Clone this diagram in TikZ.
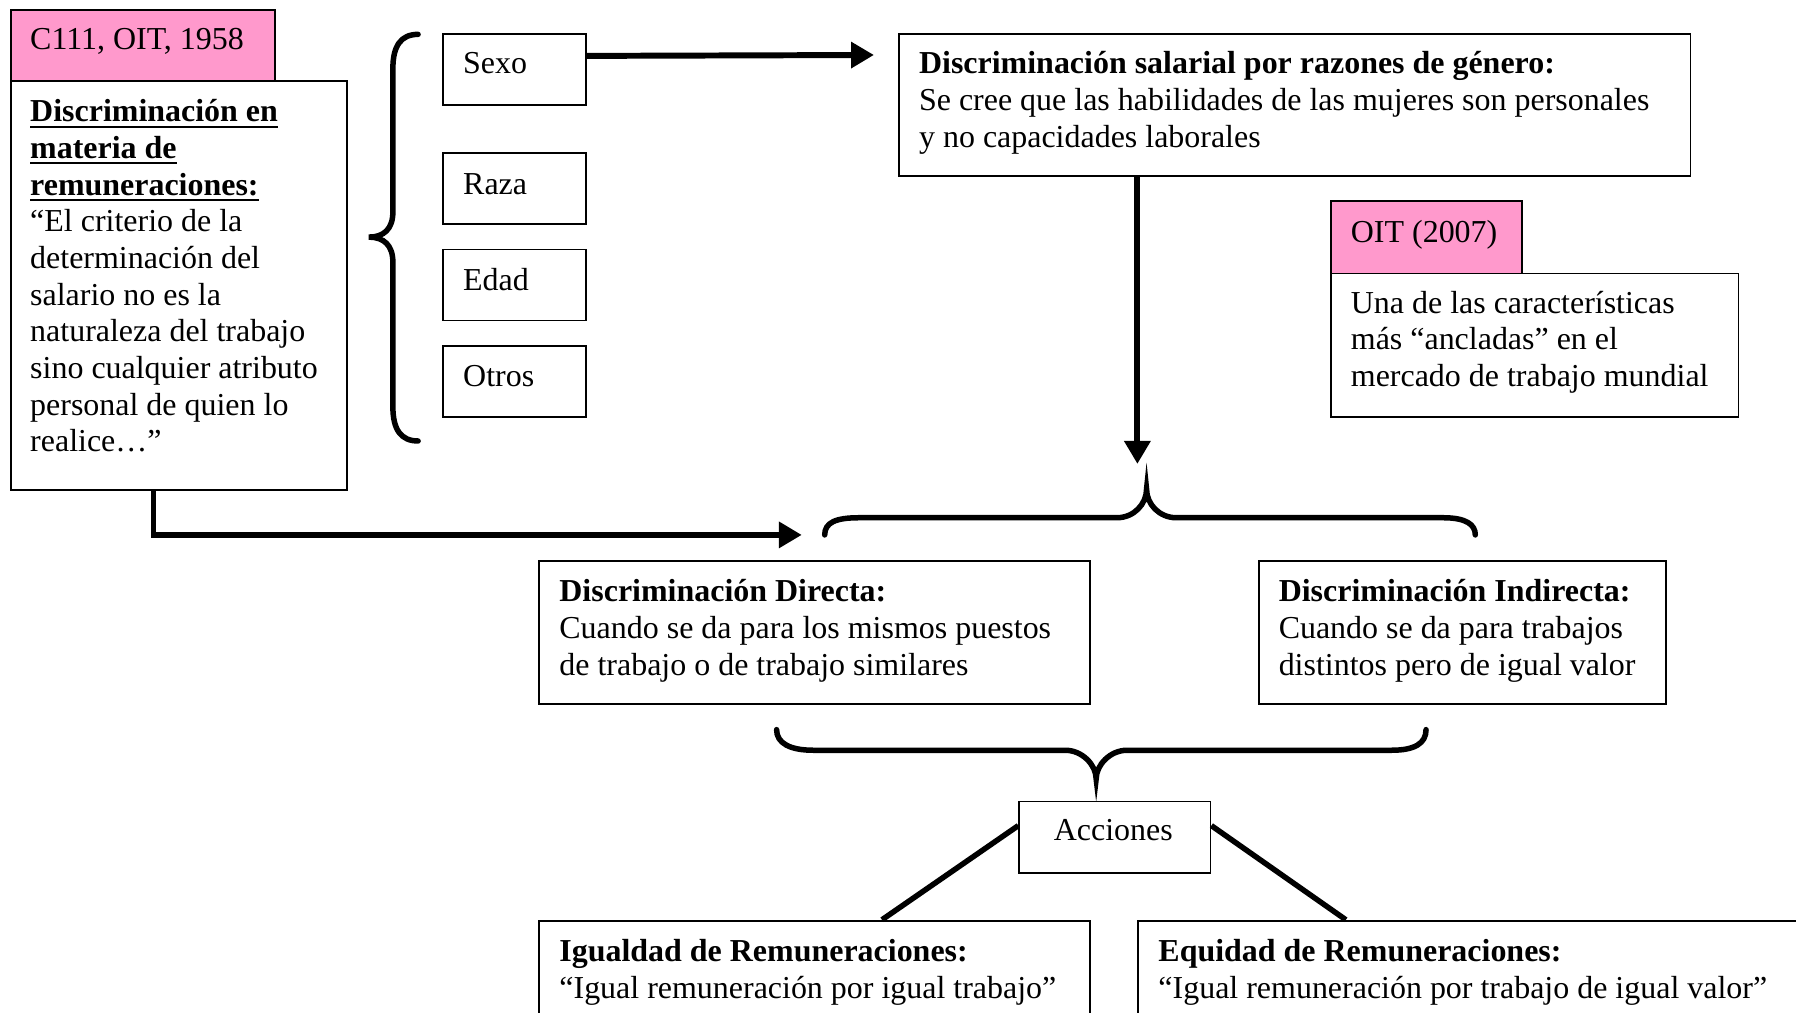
\documentclass[tikz,border=0pt]{standalone}
\usepackage{fontspec}
\setmainfont{Liberation Serif}
\usetikzlibrary{arrows.meta}
\definecolor{pinkbox}{HTML}{FF99CC}
\newcommand\thickul[1]{\setbox0\hbox{#1}\rlap{\rule[-2.6pt]{\wd0}{1pt}}\box0}
\tikzset{
  boxst/.style={draw=black, line width=0.8pt, rectangle, inner sep=0pt, anchor=north west},
  pinkst/.style={boxst, fill=pinkbox},
  txt/.style={inner sep=0pt, anchor=north west, align=left, font=\fontsize{13.95}{16}\selectfont},
  arr/.style={line width=2.6pt, -{Triangle[length=10pt,width=11pt]}},
  brace/.style={line width=2.4pt, line cap=round},
  conn/.style={line width=2.4pt},
}
\newcommand\mkbox[6]{\node[#1, minimum width={(#5-#3)*0.5pt}, minimum height={(#6-#4)*0.5pt}] (#2) at (#3,#4) {};}
\newcommand\mktext[4]{\node[txt] (#1) at (#2,#3-27) {\rule{0pt}{14pt}#4};}
\begin{document}
\begin{tikzpicture}[x=0.5pt,y=-0.5pt]
\clip (0,0) rectangle (1568,884);
\fill[white] (0,0) rectangle (1568,884);
% boxes
\mkbox{pinkst}{c111}{9}{8}{239}{70}
\mkbox{boxst}{main}{9}{70}{302}{427}
\mkbox{boxst}{sexo}{386}{29}{511}{91}
\mkbox{boxst}{raza}{386}{133}{511}{195}
\mkbox{boxst}{edad}{386}{217}{511}{279}
\mkbox{boxst}{otros}{386}{301}{511}{363}
\mkbox{boxst}{sal}{784}{29}{1475}{153}
\mkbox{pinkst}{oit}{1161}{175}{1328}{238}
\mkbox{boxst}{oitt}{1161}{238}{1517}{363}
\mkbox{boxst}{dir}{470}{489}{951}{614}
\mkbox{boxst}{ind}{1098}{489}{1454}{614}
\mkbox{boxst}{acc}{889}{699}{1056}{761}
\mkbox{boxst}{igu}{470}{803}{951}{920}
\mkbox{boxst}{equ}{993}{803}{1600}{920}
% texts
\mktext{tc111}{26}{42}{C111, OIT, 1958}
\mktext{tmain}{26}{105}{\textbf{\thickul{Discriminación en}}\\\textbf{\thickul{materia de}}\\\textbf{\thickul{remuneraciones:}}\\“El criterio de la\\determinación del\\salario no es la\\naturaleza del trabajo\\sino cualquier atributo\\personal de quien lo\\realice…”}
\mktext{tsexo}{404}{63}{Sexo}
\mktext{traza}{404}{168}{Raza}
\mktext{tedad}{404}{252}{Edad}
\mktext{totros}{404}{336}{Otros}
\mktext{tsal}{802}{63}{\textbf{Discriminación salarial por razones de género:}\\Se cree que las habilidades de las mujeres son personales\\y no capacidades laborales}
\mktext{toit}{1179}{210}{OIT (2007)}
\mktext{toitt}{1179}{272}{Una de las características\\más “ancladas” en el\\mercado de trabajo mundial}
\mktext{tdir}{488}{524}{\textbf{Discriminación Directa:}\\Cuando se da para los mismos puestos\\de trabajo o de trabajo similares}
\mktext{tind}{1116}{524}{\textbf{Discriminación Indirecta:}\\Cuando se da para trabajos\\distintos pero de igual valor}
\node[txt, anchor=base] (tacc) at (972,734) {Acciones};
\mktext{tigu}{488}{838}{\textbf{Igualdad de Remuneraciones:}\\“Igual remuneración por igual trabajo”}
\mktext{tequ}{1011}{838}{\textbf{Equidad de Remuneraciones:}\\“Igual remuneración por trabajo de igual valor”}
% free ends
\coordinate (c1) at (763,48);
\coordinate (c2) at (700,467);
\coordinate (c3) at (993,405);
% connectors
\draw[arr] ([yshift=6pt]sexo.east) -- (c1);
\draw[arr] ([xshift=104.5pt]sal.south west) -- (c3);
\draw[arr] ([xshift=62.5pt]main.south west) |- (c2);
\draw[conn] ([yshift=5pt]acc.west) -- ([xshift=150pt]igu.north west);
\draw[conn] ([yshift=5pt]acc.east) -- ([xshift=91pt]equ.north west);
% braces
\draw[brace] (365,30) .. controls (350,30) and (343,40) .. (343,60) -- (343,185)
  .. controls (343,200) and (335,207) .. (322,207)
  .. controls (335,207) and (343,214) .. (343,229) -- (343,355)
  .. controls (343,375) and (350,385) .. (365,385);
\draw[brace] (720,467) .. controls (720,456) and (730,452) .. (750,452) -- (975,452)
  .. controls (990,452) and (1001,440) .. (1001,427)
  .. controls (1001,440) and (1012,452) .. (1027,452) -- (1260,452)
  .. controls (1280,452) and (1288,458) .. (1288,467);
\draw[brace] (678,637) .. controls (678,649) and (690,655) .. (710,655) -- (930,655)
  .. controls (945,655) and (957,668) .. (957,680)
  .. controls (957,668) and (969,655) .. (984,655) -- (1215,655)
  .. controls (1235,655) and (1245,649) .. (1245,637);
\end{tikzpicture}
\end{document}
